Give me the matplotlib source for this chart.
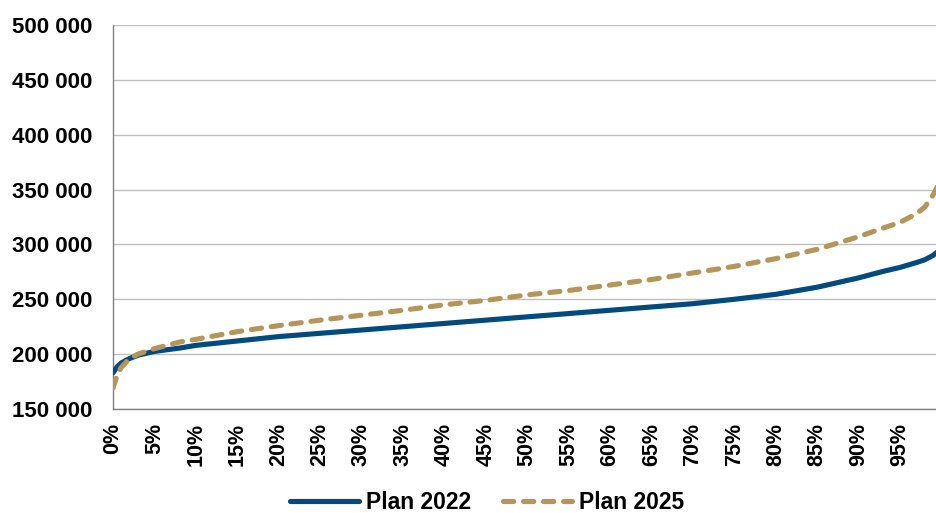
import matplotlib.pyplot as plt
from matplotlib.ticker import FuncFormatter

# percentile position (0-100 %) and pension level for each plan
pct = [0, 0.5, 1, 2, 3, 5, 8, 10, 15, 20, 25, 30, 35, 40, 45, 50, 55, 60, 65,
       70, 75, 80, 85, 90, 93, 95, 97, 98, 99, 100]
plan_2022 = [183000, 188500, 192000, 196000, 199000, 202500, 205500, 208000,
             212000, 216000, 219000, 222000, 225000, 228000, 231000, 234000,
             237000, 240000, 243000, 246000, 250000, 254500, 261000, 269500,
             275500, 279000, 283500, 286000, 290000, 296000]
plan_2025 = [169000, 181000, 188000, 196000, 200000, 205000, 211000, 213500,
             220500, 226000, 231000, 235500, 240000, 245000, 249000, 254000,
             258000, 263000, 268000, 274000, 280000, 287000, 295500, 307000,
             315000, 320000, 328000, 334000, 345000, 360000]

xticks = list(range(0, 100, 5))
yticks = list(range(150000, 500001, 50000))

plt.rcParams['font.family'] = ['Liberation Sans', 'DejaVu Sans']
plt.rcParams['font.weight'] = 'bold'

fig = plt.figure(figsize=(9.37, 5.13), dpi=100)
ax = fig.add_axes([0.1206, 0.2027, 0.884, 0.7486])

ax.plot(pct, plan_2022, color='#004A80', lw=3.7, solid_capstyle='round',
        label='Plan 2022', zorder=3)
ax.plot(pct, plan_2025, color='#B4965A', lw=3.7, linestyle=(0, (2.0, 1.9)),
        dash_capstyle='round', label='Plan 2025', zorder=4)

ax.set_xlim(0, 100)
ax.set_ylim(150000, 500000)
ax.set_xticks(xticks)
ax.set_xticklabels([f'{t}%' for t in xticks], rotation=90, fontsize=15.5,
                   fontweight='bold')
ax.set_yticks(yticks)
ax.yaxis.set_major_formatter(FuncFormatter(lambda v, p: f'{int(v):,}'.replace(',', ' ')))
for lab in ax.get_yticklabels():
    lab.set_fontsize(16)
    lab.set_fontweight('bold')
ax.tick_params(axis='y', length=0, pad=14.5)
ax.tick_params(axis='x', length=0, pad=10)

ax.grid(axis='y', color='#BFBFBF', lw=1)
ax.set_axisbelow(True)
for s in ['top', 'right']:
    ax.spines[s].set_visible(False)
for s in ['left', 'bottom']:
    ax.spines[s].set_color('#808080')
    ax.spines[s].set_linewidth(1)

fig.legend(loc='lower center', bbox_to_anchor=(0.52, -0.043), ncol=2,
           frameon=False, prop={'size': 16.5, 'weight': 'bold'},
           handlelength=3.0, columnspacing=1.4, handletextpad=0.3)

fig.savefig('out.png', dpi=100)
